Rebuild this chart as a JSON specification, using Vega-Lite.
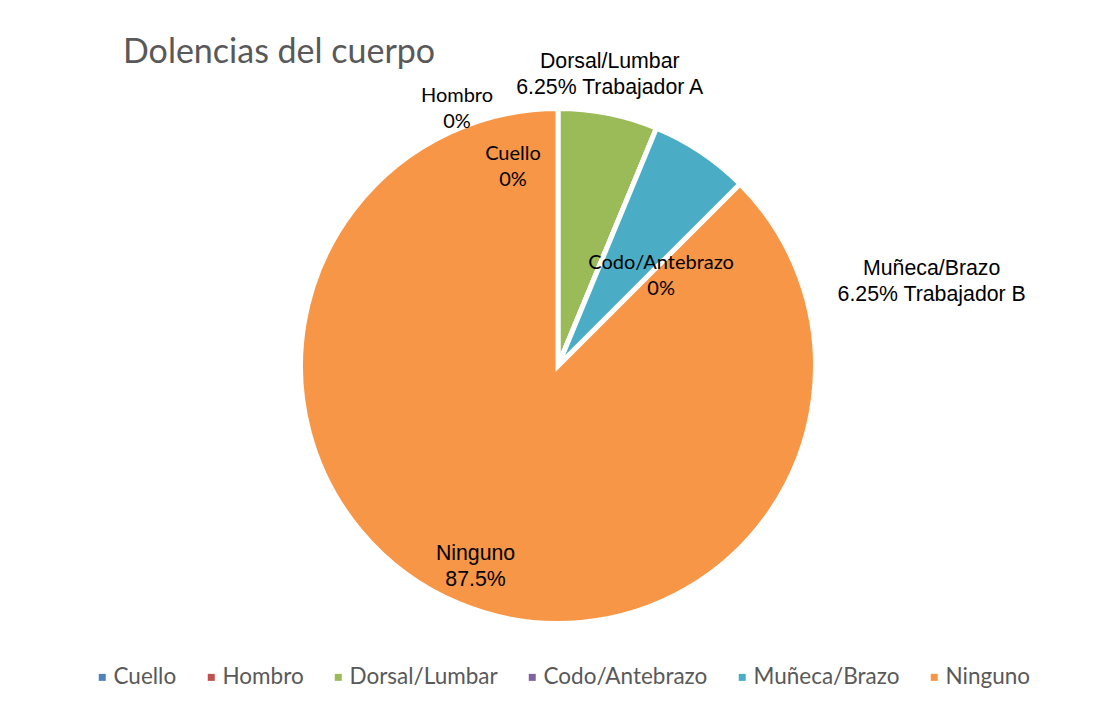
{
  "$schema": "https://vega.github.io/schema/vega-lite/v6.json",
  "width": 1072,
  "height": 684,
  "autosize": {"type": "none"},
  "padding": {"left": 22, "top": 24, "right": 0, "bottom": 0},
  "background": "#ffffff",
  "config": {"view": {"stroke": null}},
  "title": {
    "text": "Dolencias del cuerpo",
    "anchor": "start",
    "frame": "group",
    "orient": "top",
    "font": "Lato",
    "fontSize": 34,
    "fontWeight": "normal",
    "color": "#595959",
    "baseline": "alphabetic",
    "offset": 0,
    "dx": 101,
    "dy": 73
  },
  "data": {
    "values": [
      {"categoria": "Cuello", "valor": 0, "orden": 1, "etiqueta": "Cuello\n0%"},
      {"categoria": "Hombro", "valor": 0, "orden": 2, "etiqueta": "Hombro\n0%"},
      {"categoria": "Dorsal/Lumbar", "valor": 6.25, "orden": 3, "etiqueta": "Dorsal/Lumbar\n6.25% Trabajador A"},
      {"categoria": "Codo/Antebrazo", "valor": 0, "orden": 4, "etiqueta": "Codo/Antebrazo\n0%"},
      {"categoria": "Muñeca/Brazo", "valor": 6.25, "orden": 5, "etiqueta": "Muñeca/Brazo\n6.25% Trabajador B"},
      {"categoria": "Ninguno", "valor": 87.5, "orden": 6, "etiqueta": "Ninguno\n87.5%"}
    ]
  },
  "encoding": {
    "theta": {"field": "valor", "type": "quantitative", "stack": true},
    "order": {"field": "orden", "type": "quantitative", "sort": "ascending"}
  },
  "layer": [
    {
      "mark": {"type": "arc", "radius": 257.5, "stroke": "#ffffff", "strokeWidth": 5},
      "encoding": {
        "color": {
          "field": "categoria",
          "type": "nominal",
          "scale": {
            "domain": ["Cuello", "Hombro", "Dorsal/Lumbar", "Codo/Antebrazo", "Muñeca/Brazo", "Ninguno"],
            "range": ["#4F81BD", "#C0504D", "#9BBB59", "#8064A2", "#4BACC6", "#F79646"]
          },
          "legend": {
            "title": null,
            "orient": "none",
            "legendX": 69,
            "legendY": 642,
            "direction": "horizontal",
            "symbolType": "square",
            "symbolSize": 49,
            "symbolStrokeWidth": 0,
            "labelFont": "Lato",
            "labelFontSize": 22.5,
            "labelColor": "#595959",
            "labelOffset": 0,
            "labelLimit": 300,
            "columnPadding": 23,
            "padding": 0
          }
        }
      }
    },
    {
      "mark": {"type": "text", "font": "Lato", "fontSize": 20, "lineHeight": 26, "lineBreak": "\n", "align": "center", "baseline": "middle", "color": "#000000", "radius": 256, "dx": -101, "dy": -14},
      "encoding": {
        "detail": {"field": "categoria", "type": "nominal"},
        "text": {"condition": {"test": "datum.categoria === 'Hombro'", "field": "etiqueta", "type": "nominal"}, "value": ""}
      }
    },
    {
      "mark": {"type": "text", "font": "Lato", "fontSize": 20, "lineHeight": 26, "lineBreak": "\n", "align": "center", "baseline": "middle", "color": "#000000", "radius": 197, "dx": -45, "dy": -15},
      "encoding": {
        "detail": {"field": "categoria", "type": "nominal"},
        "text": {"condition": {"test": "datum.categoria === 'Cuello'", "field": "etiqueta", "type": "nominal"}, "value": ""}
      }
    },
    {
      "mark": {"type": "text", "font": "Lato", "fontSize": 20, "lineHeight": 26, "lineBreak": "\n", "align": "center", "baseline": "middle", "color": "#000000", "radius": 110, "dx": 61, "dy": -1},
      "encoding": {
        "detail": {"field": "categoria", "type": "nominal"},
        "text": {"condition": {"test": "datum.categoria === 'Codo/Antebrazo'", "field": "etiqueta", "type": "nominal"}, "value": ""}
      }
    },
    {
      "mark": {"type": "text", "font": "Liberation Sans", "fontSize": 21.3, "lineHeight": 26, "lineBreak": "\n", "align": "center", "baseline": "middle", "color": "#000000", "radius": 296, "dx": -6, "dy": -14},
      "encoding": {
        "detail": {"field": "categoria", "type": "nominal"},
        "text": {"condition": {"test": "datum.categoria === 'Dorsal/Lumbar'", "field": "etiqueta", "type": "nominal"}, "value": ""}
      }
    },
    {
      "mark": {"type": "text", "font": "Liberation Sans", "fontSize": 21.3, "lineHeight": 26, "lineBreak": "\n", "align": "center", "baseline": "middle", "color": "#000000", "radius": 300, "dx": 207, "dy": 152},
      "encoding": {
        "detail": {"field": "categoria", "type": "nominal"},
        "text": {"condition": {"test": "datum.categoria === 'Muñeca/Brazo'", "field": "etiqueta", "type": "nominal"}, "value": ""}
      }
    },
    {
      "mark": {"type": "text", "font": "Liberation Sans", "fontSize": 21.3, "lineHeight": 26, "lineBreak": "\n", "align": "center", "baseline": "middle", "color": "#000000", "radius": 205, "dx": -4, "dy": -1},
      "encoding": {
        "detail": {"field": "categoria", "type": "nominal"},
        "text": {"condition": {"test": "datum.categoria === 'Ninguno'", "field": "etiqueta", "type": "nominal"}, "value": ""}
      }
    }
  ]
}
